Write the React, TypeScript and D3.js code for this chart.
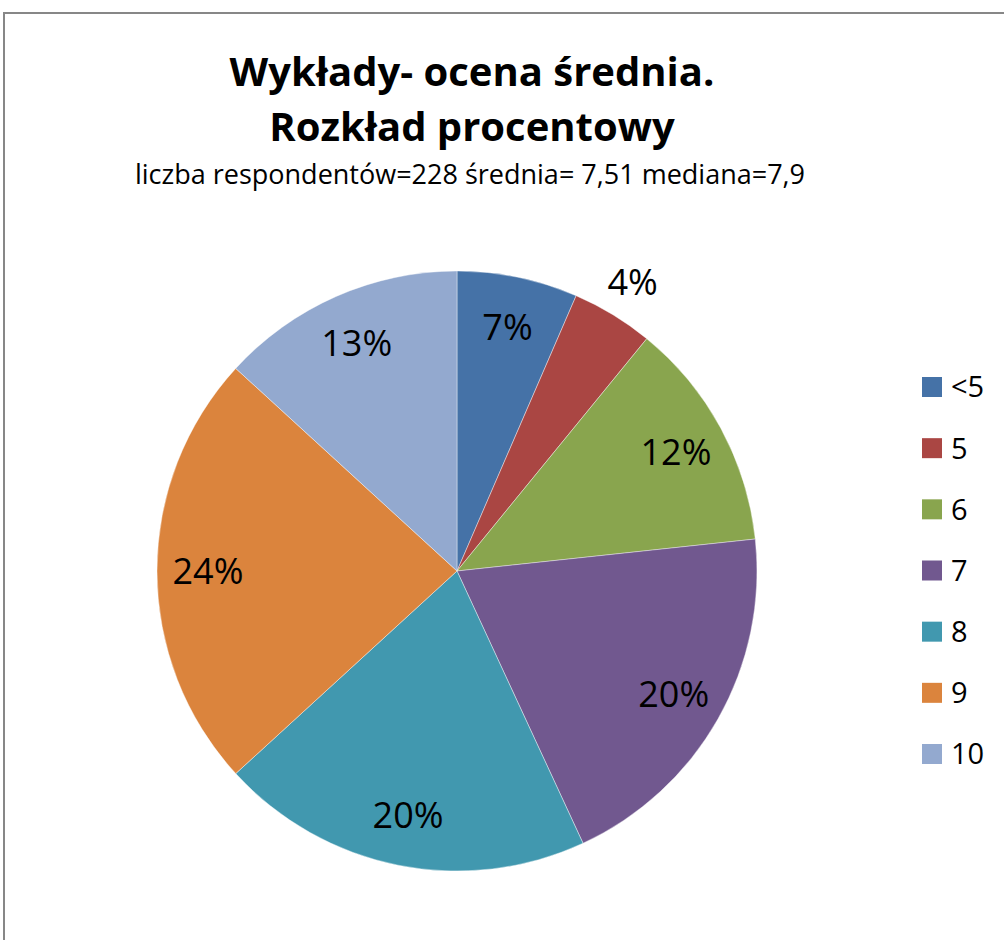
import React from 'react';
import * as d3 from 'd3';

const categories = ['<5', '5', '6', '7', '8', '9', '10'];
const shares = [6.5, 4.4, 12.4, 19.8, 20.1, 23.6, 13.2];
const colors = ['#4572A7', '#AA4643', '#89A54E', '#71588F', '#4198AF', '#DB843D', '#93A9CF'];
// slices whose label sits outside the pie
const outsideLabels = ['5'];

const titleLines = ['Wykłady- ocena średnia.', 'Rozkład procentowy'];
const subtitle = 'liczba respondentów=228 średnia= 7,51 mediana=7,9';

const W = 1004;
const H = 940;
const FONT = '"Open Sans", "Noto Sans", sans-serif';

export default function App() {
  const cx = 457;
  const cy = 571;
  const radius = 300;

  const pie = d3.pie<number>().sort(null).value(d => d);
  const arcs = pie(shares);
  const arc = d3.arc<d3.PieArcDatum<number>>().innerRadius(0).outerRadius(radius);
  const inLabel = d3.arc<d3.PieArcDatum<number>>().innerRadius(radius * 0.83).outerRadius(radius * 0.83);
  const outLabel = d3.arc<d3.PieArcDatum<number>>().innerRadius(radius + 38).outerRadius(radius + 38);

  const legend = d3.scalePoint<string>().domain(categories).range([387, 754]);

  return (
    <svg width={W} height={H} style={{ position: 'absolute', left: 0, top: 0, background: '#fff' }}>
      <rect x={4} y={13} width={W + 10} height={H} fill="#fff" stroke="#878787" strokeWidth={2} />

      <g fontFamily={FONT} textAnchor="middle" fill="#000">
        {titleLines.map((t, i) => (
          <text key={t} x={472} y={86 + i * 55} fontSize={40} fontWeight="bold">{t}</text>
        ))}
        <text x={470} y={184} fontSize={27}>{subtitle}</text>
      </g>

      <g transform={`translate(${cx},${cy})`}>
        {arcs.map((d, i) => (
          <path key={categories[i]} d={arc(d) ?? ''} fill={colors[i]} stroke="#fff" strokeOpacity={0.5} strokeWidth={0.8} />
        ))}
        {arcs.map((d, i) => {
          const [x, y] = outsideLabels.includes(categories[i]) ? outLabel.centroid(d) : inLabel.centroid(d);
          return (
            <text key={'l' + categories[i]} x={x} y={y} dy="0.36em" textAnchor="middle"
              fontFamily={FONT} fontSize={36} fill="#000">
              {Math.round(shares[i])}%
            </text>
          );
        })}
      </g>

      <g fontFamily={FONT}>
        {categories.map((c, i) => (
          <g key={c} transform={`translate(0,${legend(c)})`}>
            <rect x={922} y={-10} width={20} height={20} fill={colors[i]} />
            <text x={951} y={0} dy="0.36em" fontSize={29} fill="#000">{c}</text>
          </g>
        ))}
      </g>
    </svg>
  );
}
